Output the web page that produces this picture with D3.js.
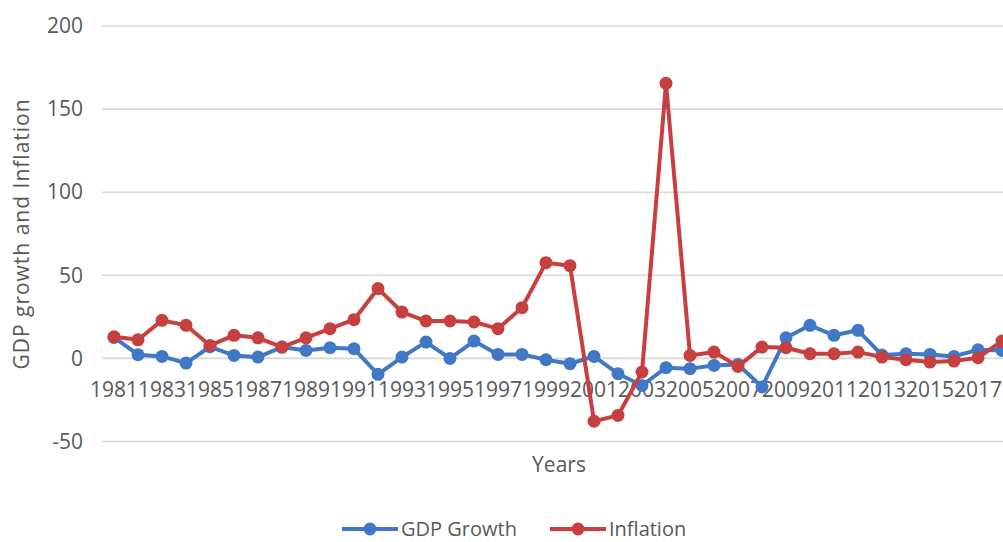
<!DOCTYPE html>
<html>
<head>
<meta charset="utf-8">
<script src="https://cdn.jsdelivr.net/npm/d3@7"></script>
<style>
  html, body { margin: 0; padding: 0; background: #fff; overflow: hidden; }
  svg { display: block; font-family: "Open Sans", "Noto Sans", sans-serif; }
</style>
</head>
<body>
<svg id="chart" width="1003" height="542"></svg>
<script>
// Years on the category axis
const years = d3.range(1981, 2019);
const yTicks = [-50, 0, 50, 100, 150, 200];

// Annual GDP growth (%)
const gdpGrowth = [
  12.6, 2.2, 1.2, -2.8, 7.0, 1.8, 0.8, 6.8, 4.8, 6.4,
  5.8, -9.6, 0.8, 9.8, 0.0, 10.4, 2.4, 2.4, -0.8, -3.2,
  1.2, -9.2, -16.3, -5.6, -6.2, -4.2, -3.6, -17.2, 12.4, 19.9,
  13.9, 16.9, 2.0, 2.8, 2.4, 1.2, 5.2, 4.8
];

// Annual inflation (%)
const inflation = [
  13.0, 11.2, 22.9, 19.9, 7.8, 13.9, 12.4, 6.8, 12.4, 17.9,
  23.3, 42.0, 27.9, 22.5, 22.5, 21.9, 17.9, 30.5, 57.6, 55.8,
  -37.8, -34.3, -8.2, 165.5, 1.8, 3.8, -4.8, 6.8, 6.4, 2.8,
  2.8, 3.8, 0.8, -0.8, -2.2, -1.6, 0.4, 10.4
];

const seriesNames = ["GDP Growth", "Inflation"];
const colors = ["#4178c5", "#c73f3f"];

const svg = d3.select("#chart");
const textColor = "#595959";
const fontSize = 21;

const x = d3.scaleBand().domain(years).range([102, 102 + years.length * 24]).padding(0);
const y = d3.scaleLinear().domain([-50, 200]).range([441.5, 26]);
const cx = d => x(d) + x.bandwidth() / 2;

// Horizontal gridlines
svg.append("g")
  .selectAll("line")
  .data(yTicks)
  .join("line")
  .attr("x1", 102).attr("x2", 1014)
  .attr("y1", d => y(d)).attr("y2", d => y(d))
  .attr("stroke", "#d9d9d9").attr("stroke-width", 1.6);

// Y axis labels (plain hyphen for negatives)
const yAxis = svg.append("g")
  .attr("transform", "translate(83,0)")
  .call(d3.axisLeft(y).tickValues(yTicks).tickFormat(d => String(d)).tickSize(0).tickPadding(0));
yAxis.select(".domain").remove();
yAxis.selectAll("text")
  .attr("fill", textColor).attr("font-size", fontSize)
  .attr("font-family", "Open Sans, sans-serif");

// X axis labels (every other year)
const xAxis = svg.append("g")
  .attr("transform", `translate(0,${y(0)})`)
  .call(d3.axisBottom(x).tickValues(years.filter((d, i) => i % 2 === 0)).tickSize(0).tickPadding(0));
xAxis.select(".domain").remove();
xAxis.selectAll("text")
  .attr("y", 31).attr("dy", "0.35em")
  .attr("fill", textColor).attr("font-size", fontSize)
  .attr("font-family", "Open Sans, sans-serif");

// Axis titles
svg.append("text")
  .attr("transform", "translate(22,234) rotate(-90)")
  .attr("text-anchor", "middle").attr("dy", "0.35em")
  .attr("letter-spacing", 1)
  .attr("fill", textColor).attr("font-size", fontSize)
  .text("GDP growth and Inflation");

svg.append("text")
  .attr("x", 559).attr("y", 465).attr("dy", "0.35em")
  .attr("text-anchor", "middle")
  .attr("fill", textColor).attr("font-size", fontSize)
  .text("Years");

// Series lines and markers
const seriesData = [gdpGrowth, inflation];
const line = d3.line().x((d, i) => cx(years[i])).y(d => y(d));

seriesData.forEach((vals, s) => {
  const g = svg.append("g");
  g.append("path")
    .datum(vals)
    .attr("d", line)
    .attr("fill", "none")
    .attr("stroke", colors[s])
    .attr("stroke-width", 4)
    .attr("stroke-linejoin", "round");
  g.selectAll("circle")
    .data(vals)
    .join("circle")
    .attr("cx", (d, i) => cx(years[i]))
    .attr("cy", d => y(d))
    .attr("r", 6.5)
    .attr("fill", colors[s]);
});

// Legend
const legendItems = [
  { name: seriesNames[0], color: colors[0], x0: 342 },
  { name: seriesNames[1], color: colors[1], x0: 550 }
];
const legend = svg.append("g");
legendItems.forEach(item => {
  const g = legend.append("g").attr("transform", `translate(${item.x0},529)`);
  g.append("line").attr("x1", 0).attr("x2", 56).attr("y1", 0).attr("y2", 0)
    .attr("stroke", item.color).attr("stroke-width", 4);
  g.append("circle").attr("cx", 28).attr("cy", 0).attr("r", 6.5).attr("fill", item.color);
  g.append("text").attr("x", 59).attr("y", 0).attr("dy", "0.35em")
    .attr("fill", textColor).attr("font-size", 20)
    .text(item.name);
});
</script>
</body>
</html>
